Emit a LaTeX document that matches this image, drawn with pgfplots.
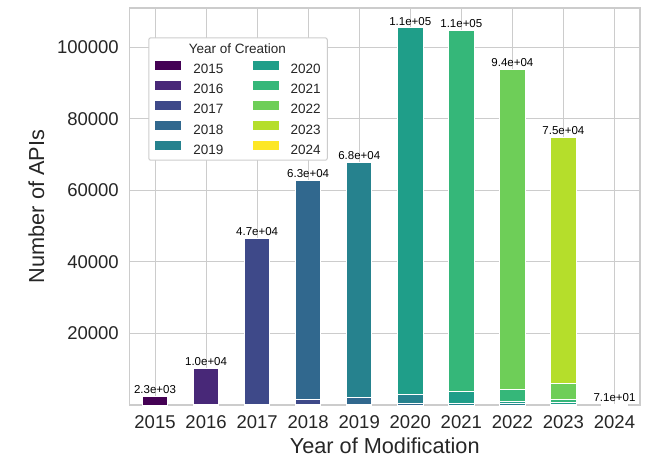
\documentclass[border=0pt]{standalone}
\usepackage{fontspec}
\setmainfont{Liberation Sans}
\usepackage{pgfplots}
\pgfplotsset{compat=1.18}
\definecolor{v0}{HTML}{440154}
\definecolor{v1}{HTML}{482878}
\definecolor{v2}{HTML}{3E4989}
\definecolor{v3}{HTML}{31688E}
\definecolor{v4}{HTML}{26828E}
\definecolor{v5}{HTML}{1F9E89}
\definecolor{v6}{HTML}{35B779}
\definecolor{v7}{HTML}{6ECE58}
\definecolor{v8}{HTML}{B5DE2B}
\definecolor{v9}{HTML}{FDE725}
\definecolor{gridc}{HTML}{CCCCCC}
\definecolor{txt}{HTML}{262626}
\pgfplotsset{common/.style={
  at={(0,0)}, anchor=south west,
  scale only axis, width=510.5bp, height=397bp,
  bar width=0.5, scaled y ticks=false, scaled x ticks=false,
  xmin=-0.5, xmax=9.5, ymin=0, ymax=110985}}
\begin{document}
\begin{tikzpicture}
\useasboundingbox (-129.5bp,-54bp) rectangle (517.5bp,405bp);
\begin{axis}[
  common,
  ybar stacked,
  xtick={0,1,2,3,4,5,6,7,8,9},
  xticklabels={2015,2016,2017,2018,2019,2020,2021,2022,2023,2024},
  ytick={20000,40000,60000,80000,100000},
  yticklabels={20000,40000,60000,80000,100000},
  major tick length=0pt,
  grid=major, major grid style={gridc, line width=1bp},
  axis line style={gridc, line width=1.25bp},
  tick label style={font=\fontsize{18.5bp}{22bp}\selectfont, text=txt},
  xticklabel style={inner sep=0pt, anchor=north, yshift=-10bp},
  yticklabel style={inner sep=0pt, anchor=east, xshift=-10.5bp},
  xlabel={Year of Modification},
  ylabel={Number of APIs},
  every axis x label/.style={at={(axis description cs:0.5,-0.0814)}, anchor=north, inner sep=0pt, font=\fontsize{21.7bp}{26bp}\selectfont, text=txt},
  every axis y label/.style={at={(axis description cs:-0.1982,0.5)}, rotate=90, anchor=north, inner sep=0pt, font=\fontsize{21.7bp}{26bp}\selectfont, text=txt},
  legend image code/.code={\path[#1, sharp corners] (0bp,-1bp) rectangle (26bp,8bp);},
  legend columns=2, legend cell align=left,
  legend style={at={(axis description cs:0.0368,0.9262)}, anchor=north west,
    draw=gridc, line width=1bp, rounded corners=2bp, fill=white,
    inner xsep=6.5bp, inner ysep=6bp,
    font=\fontsize{13.5bp}{16bp}\selectfont, text=txt,
    nodes={inner sep=0pt, text height=9.7bp, text depth=0pt},
    row sep=7.3bp,
    /tikz/every odd column/.append style={column sep=12bp},
    /tikz/every even column/.append style={column sep=29.4bp}},
]
\addplot[fill=v0, draw=white, line width=1bp, forget plot] coordinates {(0,2300) (1,50) (2,0) (3,0) (4,0) (5,0) (6,0) (7,0) (8,0) (9,0)};
\addplot[fill=v1, draw=white, line width=1bp, forget plot] coordinates {(0,0) (1,10150) (2,150) (3,80) (4,0) (5,0) (6,0) (7,0) (8,0) (9,0)};
\addplot[fill=v2, draw=white, line width=1bp, forget plot] coordinates {(0,0) (1,0) (2,46450) (3,1550) (4,150) (5,0) (6,0) (7,0) (8,0) (9,0)};
\addplot[fill=v3, draw=white, line width=1bp, forget plot] coordinates {(0,0) (1,0) (2,0) (3,61070) (4,1950) (5,300) (6,0) (7,0) (8,0) (9,0)};
\addplot[fill=v4, draw=white, line width=1bp, forget plot] coordinates {(0,0) (1,0) (2,0) (3,0) (4,65700) (5,2700) (6,550) (7,300) (8,100) (9,0)};
\addplot[fill=v5, draw=white, line width=1bp, forget plot] coordinates {(0,0) (1,0) (2,0) (3,0) (4,0) (5,102400) (6,3100) (7,700) (8,600) (9,0)};
\addplot[fill=v6, draw=white, line width=1bp, forget plot] coordinates {(0,0) (1,0) (2,0) (3,0) (4,0) (5,0) (6,101150) (7,3200) (8,800) (9,0)};
\addplot[fill=v7, draw=white, line width=1bp, forget plot] coordinates {(0,0) (1,0) (2,0) (3,0) (4,0) (5,0) (6,0) (7,89700) (8,4500) (9,0)};
\addplot[fill=v8, draw=white, line width=1bp, forget plot] coordinates {(0,0) (1,0) (2,0) (3,0) (4,0) (5,0) (6,0) (7,0) (8,68900) (9,0)};
\addplot[fill=v9, draw=white, line width=1bp, forget plot] coordinates {(0,0) (1,0) (2,0) (3,0) (4,0) (5,0) (6,0) (7,0) (8,0) (9,71)};
\addlegendimage{empty legend}\addlegendentry{\makebox[0pt][l]{\hspace{-5bp}Year of Creation}}
\addlegendimage{empty legend}\addlegendentry{}
\addlegendimage{fill=v0, draw=none}\addlegendentry{2015}
\addlegendimage{fill=v5, draw=none}\addlegendentry{2020}
\addlegendimage{fill=v1, draw=none}\addlegendentry{2016}
\addlegendimage{fill=v6, draw=none}\addlegendentry{2021}
\addlegendimage{fill=v2, draw=none}\addlegendentry{2017}
\addlegendimage{fill=v7, draw=none}\addlegendentry{2022}
\addlegendimage{fill=v3, draw=none}\addlegendentry{2018}
\addlegendimage{fill=v8, draw=none}\addlegendentry{2023}
\addlegendimage{fill=v4, draw=none}\addlegendentry{2019}
\addlegendimage{fill=v9, draw=none}\addlegendentry{2024}
\end{axis}
\begin{axis}[
  common, ybar, hide axis, clip=false,
  nodes near coords, point meta=explicit symbolic,
  every node near coord/.append style={font=\fontsize{11.5bp}{13bp}\selectfont, text=black, anchor=south, inner sep=0pt, yshift=2.5bp},
]
\addplot[draw=none, fill=none] coordinates {
  (0,2300) [2.3e+03] (1,10200) [1.0e+04] (2,46600) [4.7e+04] (3,62700) [6.3e+04] (4,67800) [6.8e+04]
  (5,105400) [1.1e+05] (6,104800) [1.1e+05] (7,93900) [9.4e+04] (8,74900) [7.5e+04] (9,71) [7.1e+01]};
\end{axis}
\end{tikzpicture}
\end{document}
